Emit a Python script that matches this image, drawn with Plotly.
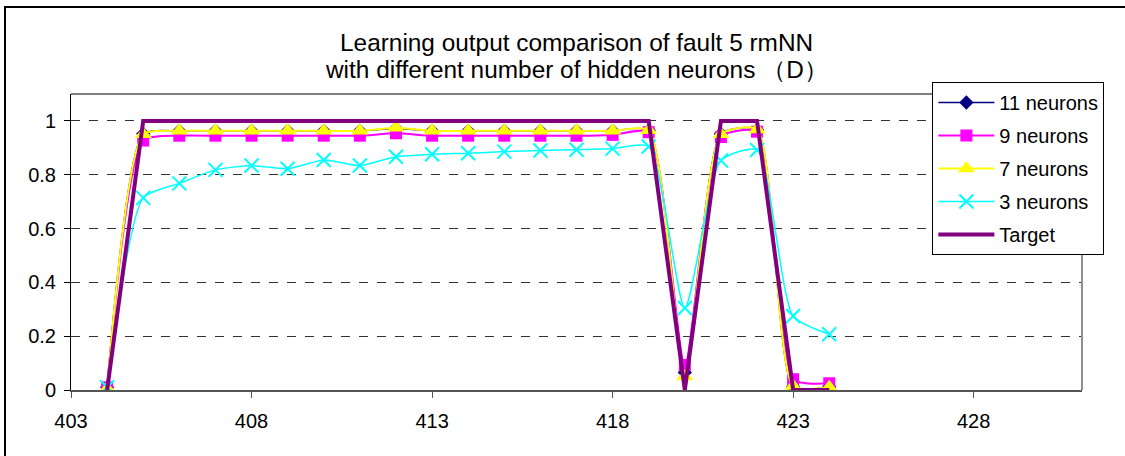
import plotly.graph_objects as go

x_vals = list(range(404, 425))
target = [0, 1, 1, 1, 1, 1, 1, 1, 1, 1, 1, 1, 1, 1, 1, 1, 0, 1, 1, 0, 0]
n11 = [0.01, 0.952, 0.963, 0.963, 0.963, 0.963, 0.963, 0.963, 0.972, 0.963, 0.963,
       0.963, 0.963, 0.963, 0.963, 0.965, 0.065, 0.952, 0.967, 0.012, 0.012]
n9 = [0.01, 0.927, 0.945, 0.945, 0.945, 0.945, 0.945, 0.945, 0.954, 0.945, 0.945,
      0.945, 0.945, 0.945, 0.948, 0.958, 0.093, 0.94, 0.96, 0.04, 0.025]
n7 = [0.005, 0.95, 0.963, 0.963, 0.963, 0.963, 0.963, 0.963, 0.975, 0.963, 0.963,
      0.963, 0.963, 0.963, 0.963, 0.965, 0.05, 0.95, 0.968, 0.015, 0.01]
n3 = [0.01, 0.714, 0.768, 0.818, 0.834, 0.822, 0.855, 0.834, 0.867, 0.876, 0.880,
      0.886, 0.890, 0.893, 0.897, 0.905, 0.305, 0.853, 0.892, 0.275, 0.207]

x_ticks = [403, 408, 413, 418, 423, 428]
y_ticks = [0, 0.2, 0.4, 0.6, 0.8, 1]
y_tick_text = ["0", "0.2", "0.4", "0.6", "0.8", "1"]
title_lines = ["Learning output comparison of fault 5 rmNN",
               "with different number of hidden neurons （D）"]

FONT = "Arial, Liberation Sans, sans-serif"
SM = 0.6

fig = go.Figure()
fig.add_trace(go.Scatter(x=x_vals, y=n11, name="11 neurons", mode="lines+markers",
                         legendgroup="a",
                         line=dict(color="#000080", width=1.5, shape="spline", smoothing=SM),
                         marker=dict(symbol="diamond", size=11, color="#000080")))
fig.add_trace(go.Scatter(x=x_vals, y=n9, name="9 neurons", mode="lines+markers",
                         legendgroup="b",
                         line=dict(color="#FF00FF", width=2, shape="spline", smoothing=SM),
                         marker=dict(symbol="square", size=12, color="#FF00FF")))
fig.add_trace(go.Scatter(x=x_vals, y=n7, name="7 neurons", mode="lines+markers",
                         legendgroup="c",
                         line=dict(color="#FFFF00", width=2, shape="spline", smoothing=SM),
                         marker=dict(symbol="triangle-up", size=15, color="#FFFF00")))
fig.add_trace(go.Scatter(x=x_vals, y=n3, name="3 neurons", mode="lines+markers",
                         legendgroup="d",
                         line=dict(color="#00FFFF", width=1.5, shape="spline", smoothing=SM),
                         marker=dict(symbol="x-thin", size=14,
                                     line=dict(color="#00FFFF", width=2))))
fig.add_trace(go.Scatter(x=x_vals, y=target, name="Target", mode="lines",
                         legendgroup="e",
                         line=dict(color="#800080", width=4)))

fig.update_layout(
    width=1125, height=456,
    margin=dict(l=71, r=43, t=94, b=66),
    paper_bgcolor="white", plot_bgcolor="white",
    font=dict(family=FONT, size=20, color="black"),
    legend=dict(x=0.852, y=1.0405, xanchor="left", yanchor="top",
                bordercolor="black", borderwidth=1, bgcolor="white",
                font=dict(family=FONT, size=20, color="black"),
                itemwidth=56, traceorder="grouped", tracegroupgap=4),
    xaxis=dict(range=[403, 431], tickvals=x_ticks, ticks="outside", ticklen=6,
               tickcolor="#555555", showgrid=False, zeroline=False,
               showline=True, linecolor="#555555", linewidth=2,
               ticklabelstandoff=6, automargin=False,
               tickfont=dict(family=FONT, size=20, color="black")),
    yaxis=dict(range=[0, 1.1], tickvals=y_ticks, ticktext=y_tick_text,
               ticks="outside", ticklen=6, tickcolor="black",
               showgrid=True, gridcolor="#333333", griddash="dash", gridwidth=1,
               zeroline=False, showline=True, linecolor="black", linewidth=1,
               ticklabelstandoff=4, automargin=False,
               tickfont=dict(family=FONT, size=20, color="black")),
    annotations=[
        dict(text=title_lines[0], xref="paper", yref="paper", x=0.5, y=(390 - 42) / 296,
             xanchor="center", yanchor="middle", showarrow=False,
             font=dict(family=FONT, size=24.4, color="black")),
        dict(text=title_lines[1], xref="paper", yref="paper", x=0.5, y=(390 - 70) / 296,
             xanchor="center", yanchor="middle", showarrow=False,
             font=dict(family=FONT, size=24.4, color="black")),
    ],
    shapes=[
        dict(type="line", xref="paper", yref="paper", x0=0, x1=1, y0=1, y1=1,
             line=dict(color="#808080", width=2)),
        dict(type="line", xref="paper", yref="paper", x0=1, x1=1, y0=0, y1=1,
             line=dict(color="#909090", width=2)),
        dict(type="rect", xref="paper", yref="paper",
             x0=(5 - 71) / 1011, x1=(1135 - 71) / 1011,
             y0=(390 - 470) / 296, y1=(390 - 7) / 296,
             line=dict(color="black", width=2), fillcolor="rgba(0,0,0,0)", layer="above"),
    ],
)

fig.write_html("out.html", config={"displayModeBar": False},
               post_script="document.body.style.margin='0px';")
